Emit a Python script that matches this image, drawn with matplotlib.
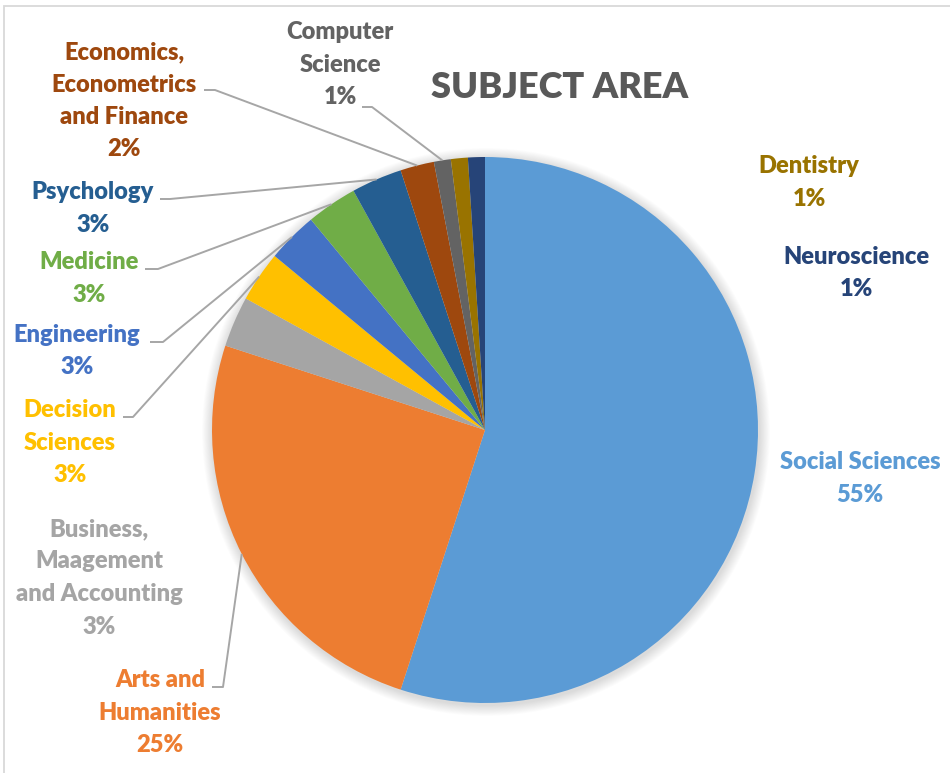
import matplotlib
matplotlib.use("Agg")
import matplotlib.pyplot as plt
from matplotlib.patches import Circle, Rectangle
import numpy as np

# Share of publications by subject area (percent), clockwise from 12 o'clock
subjects = [
    "Social Sciences", "Arts and\nHumanities", "Business,\nMaagement\nand Accounting",
    "Decision\nSciences", "Engineering", "Medicine", "Psychology",
    "Economics,\nEconometrics\nand Finance", "Computer\nScience", "Dentistry", "Neuroscience",
]
shares = [55, 25, 3, 3, 3, 3, 3, 2, 1, 1, 1]
colors = ["#5B9BD5", "#ED7D31", "#A5A5A5", "#FFC000", "#4472C4", "#70AD47",
          "#255E91", "#9E480E", "#636363", "#997300", "#264478"]

W, H = 950, 773
fig = plt.figure(figsize=(W / 100, H / 100), dpi=100)
ax = fig.add_axes([0, 0, 1, 1])
ax.set_xlim(0, W)
ax.set_ylim(0, H)
ax.set_aspect("equal")
ax.axis("off")

FONT = "Lato"
WEIGHT = "heavy"
cx, cy, r = 485, H - 430, 273

# soft drop shadow behind the pie
for i in range(12):
    ax.add_patch(Circle((cx + 1, cy - 2), r + 1 + i * 0.9, color="black",
                        alpha=0.012, lw=0, zorder=1))

wedges, _ = ax.pie(shares, colors=colors, startangle=90, counterclock=False,
                   center=(cx, cy), radius=r, frame=True,
                   wedgeprops=dict(linewidth=0, zorder=2))
ax.set_xlim(0, W)
ax.set_ylim(0, H)
ax.axis("off")

# chart-area border
ax.add_patch(Rectangle((4, -20), W + 20, H - 6 + 20, fill=False,
                       edgecolor="#D9D9D9", lw=1.3, zorder=0))

ax.text(560, H - 88, "SUBJECT AREA", ha="center", va="center", fontsize=26,
        fontweight=WEIGHT, color="#595959", family=FONT)

# label anchor: (center x, first-line center y) in pixel coordinates from the top
label_pos = [
    (860, 462), (160, 680), (99, 529), (70, 410), (77, 335), (89, 262),
    (93, 192), (124, 52), (340, 32), (809, 166), (856, 257),
]
# leader lines: (start x, y at label side, horizontal stub end x) or None
leaders = [
    None, (212, 687, 223), None, (123, 417, 133), (150, 342, 163),
    (145, 269, 158), (160, 199, 170), (204, 90, 215), (362, 107, 372), None, None,
]
LINE = 32.5

for i, (name, val, col) in enumerate(zip(subjects, shares, colors)):
    x, y0 = label_pos[i]
    lines = name.split("\n") + [f"{val}%"]
    for k, s in enumerate(lines):
        ax.text(x, H - (y0 + k * LINE), s, ha="center", va="center",
                fontsize=17, fontweight=WEIGHT, color=col, family=FONT, zorder=5)
    ld = leaders[i]
    if ld is not None:
        w = wedges[i]
        mid = np.deg2rad((w.theta1 + w.theta2) / 2)
        ex, ey = cx + r * np.cos(mid), cy + r * np.sin(mid)
        sx, sy, hx = ld
        ax.plot([sx, hx, ex], [H - sy, H - sy, ey], color="#A6A6A6", lw=1.4,
                zorder=4, solid_capstyle="butt")

fig.savefig("out.png", dpi=100)
